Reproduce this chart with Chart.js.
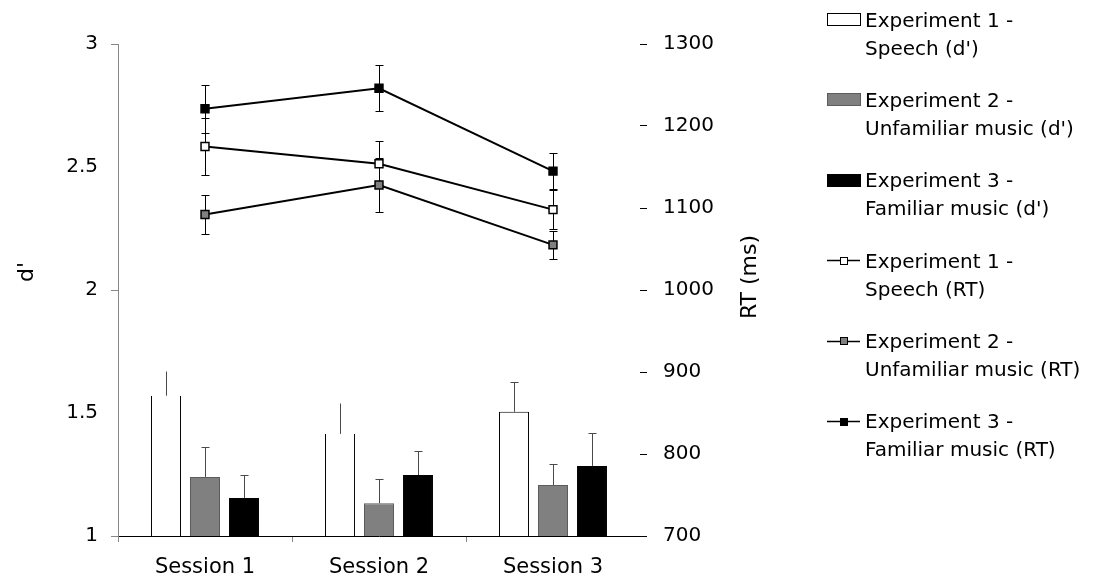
<!DOCTYPE html>
<html>
<head>
<meta charset="utf-8">
<script src="https://cdn.jsdelivr.net/npm/chart.js@4.4.1/dist/chart.umd.min.js"></script>
<style>
html,body{margin:0;padding:0;background:#fff;}
#wrap{width:1106px;height:586px;position:relative;}
</style>
</head>
<body>
<div id="wrap"><canvas id="c" width="1106" height="586"></canvas></div>
<script>
// ---------- data ----------
const categories = ['Session 1', 'Session 2', 'Session 3'];
const dTicks = [1, 1.5, 2, 2.5, 3];
const rtTicks = [700, 800, 900, 1000, 1100, 1200, 1300];

const speechD = [1.57, 1.415, 1.505];
const speechDErr = [0.10, 0.125, 0.12];
const unfamD = [1.24, 1.133, 1.207];
const unfamDErr = [0.12, 0.098, 0.085];
const famD = [1.154, 1.248, 1.285];
const famDErr = [0.096, 0.096, 0.133];

const speechRT = [1175, 1154, 1098];
const speechRTErr = [35, 28, 24];
const unfamRT = [1092, 1128, 1055];
const unfamRTErr = [24, 33, 17];
const famRT = [1221, 1246, 1145];
const famRTErr = [29, 28, 22];

const labels = [
  "Experiment 1 - Speech (d')",
  "Experiment 2 - Unfamiliar music (d')",
  "Experiment 3 - Familiar music (d')",
  "Experiment 1 - Speech (RT)",
  "Experiment 2 - Unfamiliar music (RT)",
  "Experiment 3 - Familiar music (RT)"
];
const yTitle = "d'";
const y1Title = "RT (ms)";

// ---------- styling ----------
const FAMILY = '"DejaVu Sans", "Liberation Sans", sans-serif';
const FS = 20;
Chart.defaults.font.family = FAMILY;
Chart.defaults.font.size = FS;
Chart.defaults.color = '#000';

// bars of the first series whose top edge / cap is not visible in the picture
const hiddenTop = [true, true, false];

const errorPlugin = {
  id: 'errorBars',
  beforeDatasetsDraw(chart) {
    const ctx = chart.ctx;
    chart.data.datasets.forEach((ds, di) => {
      const meta = chart.getDatasetMeta(di);
      const ys = chart.scales[ds.yAxisID];
      ds.errors.forEach((e, i) => {
        const el = meta.data[i];
        if (!el) return;
        const px = Math.round(el.x) + 0.5;
        const v = ds.data[i];
        ctx.save();
        ctx.lineWidth = 1;
        if (ds.type === 'line') {
          const yt = Math.round(ys.getPixelForValue(v + e)) + 0.5;
          const yb = Math.round(ys.getPixelForValue(v - e)) + 0.5;
          ctx.strokeStyle = '#000';
          ctx.beginPath();
          ctx.moveTo(px, yt); ctx.lineTo(px, yb);
          ctx.moveTo(px - 4, yt); ctx.lineTo(px + 4, yt);
          ctx.moveTo(px - 4, yb); ctx.lineTo(px + 4, yb);
          ctx.stroke();
        } else {
          const y0 = ys.getPixelForValue(v);
          const yt = Math.round(ys.getPixelForValue(v + e)) + 0.5;
          ctx.strokeStyle = '#4a4a4a';
          ctx.beginPath();
          ctx.moveTo(px, y0); ctx.lineTo(px, yt);
          if (!(di === 0 && hiddenTop[i])) {
            ctx.moveTo(px - 4, yt); ctx.lineTo(px + 4, yt);
          }
          ctx.stroke();
        }
        ctx.restore();
      });
    });
  },
  afterDraw(chart) {
    const ctx = chart.ctx;
    const area = chart.chartArea;
    ctx.save();
    // axis titles
    ctx.fillStyle = '#000';
    ctx.font = '22px ' + FAMILY;
    ctx.textAlign = 'center';
    ctx.textBaseline = 'middle';
    ctx.save();
    ctx.translate(27, area.top + 228);
    ctx.rotate(-Math.PI / 2);
    ctx.fillText(yTitle, 0, 0);
    ctx.restore();
    ctx.save();
    ctx.translate(area.right + 110, area.top + 233);
    ctx.rotate(-Math.PI / 2);
    ctx.fillText(y1Title, 0, 0);
    ctx.restore();

    // legend
    const bx = 827, bw = 33, tx = 865;
    ctx.font = FS + 'px ' + FAMILY;
    ctx.textAlign = 'left';
    ctx.textBaseline = 'alphabetic';
    chart.data.datasets.forEach((ds, k) => {
      const cy = 19.5 + k * 80.3;
      const parts = ds.label.split(' - ');
      const lines = [parts[0] + ' -', parts.slice(1).join(' - ')];
      if (ds.type === 'line') {
        ctx.strokeStyle = '#000';
        ctx.lineWidth = 1.5;
        ctx.beginPath();
        ctx.moveTo(bx, Math.round(cy) + 0.5);
        ctx.lineTo(bx + bw, Math.round(cy) + 0.5);
        ctx.stroke();
        ctx.fillStyle = ds.pointBackgroundColor;
        ctx.lineWidth = 1;
        const s = 7;
        const mx = Math.round(bx + bw / 2 - s / 2) + 0.5, my = Math.round(cy - s / 2) + 0.5;
        ctx.fillRect(mx, my, s, s);
        ctx.strokeRect(mx, my, s, s);
      } else {
        ctx.fillStyle = ds.backgroundColor;
        ctx.strokeStyle = ds.borderColor;
        ctx.lineWidth = 1;
        const ry = Math.round(cy - 6.5) + 0.5;
        ctx.fillRect(bx + 0.5, ry, bw, 12);
        ctx.strokeRect(bx + 0.5, ry, bw, 12);
      }
      ctx.fillStyle = '#000';
      ctx.fillText(lines[0], tx, cy + 7.3);
      ctx.fillText(lines[1], tx, cy + 28 + 7.3);
    });
    ctx.restore();
  }
};

const barCommon = {
  type: 'bar',
  yAxisID: 'y',
  order: 2,
  borderWidth: 1,
  categoryPercentage: 0.672,
  barPercentage: 0.77
};
const lineCommon = {
  type: 'line',
  yAxisID: 'y1',
  order: 0,
  borderColor: '#000',
  borderWidth: 2,
  pointStyle: 'rect',
  pointRadius: 5.6,
  pointBorderColor: '#000',
  pointBorderWidth: 1.5,
  tension: 0,
  fill: false
};

new Chart(document.getElementById('c'), {
  type: 'bar',
  data: {
    labels: categories,
    datasets: [
      Object.assign({}, barCommon, {
        label: labels[0], data: speechD, errors: speechDErr,
        backgroundColor: '#ffffff', borderColor: '#000000',
        borderWidth: (c) => ({ top: hiddenTop[c.dataIndex] ? 0 : 1, left: 1, right: 1, bottom: 0 })
      }),
      Object.assign({}, barCommon, {
        label: labels[1], data: unfamD, errors: unfamDErr,
        backgroundColor: '#808080', borderColor: '#5c5c5c'
      }),
      Object.assign({}, barCommon, {
        label: labels[2], data: famD, errors: famDErr,
        backgroundColor: '#000000', borderColor: '#000000'
      }),
      Object.assign({}, lineCommon, {
        label: labels[3], data: speechRT, errors: speechRTErr,
        pointBackgroundColor: '#ffffff'
      }),
      Object.assign({}, lineCommon, {
        label: labels[4], data: unfamRT, errors: unfamRTErr,
        pointBackgroundColor: '#808080'
      }),
      Object.assign({}, lineCommon, {
        label: labels[5], data: famRT, errors: famRTErr,
        pointBackgroundColor: '#000000'
      })
    ]
  },
  options: {
    responsive: false,
    devicePixelRatio: 1,
    animation: false,
    layout: { padding: { top: 44, left: 0, right: 0, bottom: 0 } },
    plugins: { legend: { display: false }, tooltip: { enabled: false } },
    scales: {
      x: {
        type: 'category',
        offset: true,
        grid: {
          offset: true,
          drawOnChartArea: false,
          drawTicks: true,
          tickLength: 6,
          tickColor: (c) => c.type === 'tick' ? '#868686' : 'rgba(0,0,0,0)'
        },
        border: { display: true, color: '#000', width: 1 },
        ticks: { padding: 13, color: '#000', font: { size: 21 } },
        afterFit: (s) => { s.height = 50; }
      },
      y: {
        type: 'linear',
        position: 'left',
        min: 1, max: 3,
        afterBuildTicks: (s) => { s.ticks = dTicks.map(v => ({ value: v })); },
        grid: {
          drawOnChartArea: false,
          drawTicks: true,
          tickLength: 7,
          tickColor: (c) => (c.tick && Number.isInteger(c.tick.value)) ? '#868686' : 'rgba(0,0,0,0)'
        },
        border: { display: true, color: '#868686', width: 1 },
        ticks: { padding: 13, color: '#000', font: { size: FS }, callback: (v) => String(v) },
        afterFit: (s) => { s.width = 118; }
      },
      y1: {
        type: 'linear',
        position: 'right',
        min: 700, max: 1300,
        afterBuildTicks: (s) => { s.ticks = rtTicks.map(v => ({ value: v })); },
        grid: {
          drawOnChartArea: false,
          drawTicks: true,
          tickLength: 7,
          tickColor: '#000'
        },
        border: { display: false },
        ticks: { padding: 16, color: '#000', font: { size: FS }, callback: (v) => String(v) },
        afterFit: (s) => { s.width = 466; }
      }
    }
  },
  plugins: [errorPlugin]
});
</script>
</body>
</html>
